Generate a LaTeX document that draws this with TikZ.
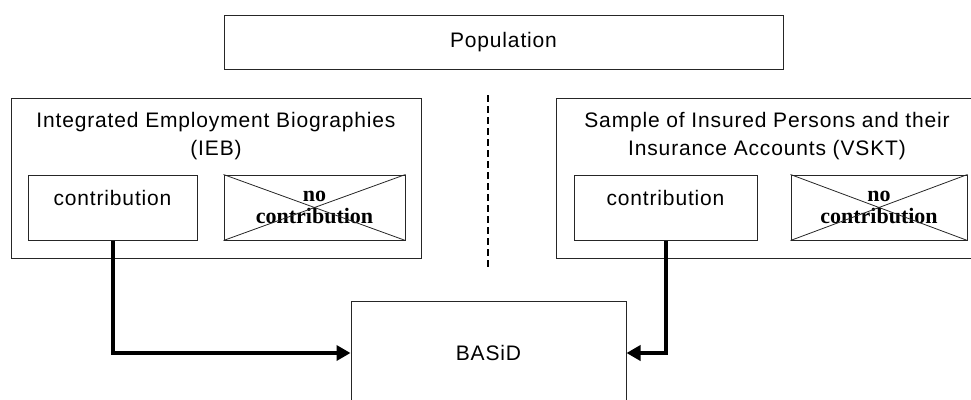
\documentclass[tikz,border=0pt]{standalone}
\usepackage{fontspec}
\setmainfont{Liberation Sans}[LetterSpace=4]
\newfontfamily\crossfont{Liberation Serif}
\usetikzlibrary{arrows.meta}

\begin{document}
\begin{tikzpicture}[x=1pt, y=-1pt,
		every node/.style={font=\fontsize{21}{28}\selectfont},
		box/.style={draw=black!85, line width=1pt, inner sep=0pt},
		inbox/.style={box, minimum height=65},
		crossed/.style={inbox, align=center, font=\crossfont\bfseries\fontsize{22}{22}\selectfont},
		link/.style={line width=4pt, -{Triangle[length=14pt, width=15pt]}}]
				\useasboundingbox (0,0) rectangle (971,399);
				\clip (0,0) rectangle (971,399);
				\node[box, minimum width=559, minimum height=54] (population) at (503.5,42) {Population};
				\node[box, minimum width=410, minimum height=160] (ieb) at (216,178) {};
				\node[box, minimum width=422, minimum height=160] (vskt) at (767,178) {};
				\node[align=center] (iebtitle) at (216,136) {Integrated Employment Biographies\\(IEB)};
				\node[align=center] (vskttitle) at (767,136) {Sample of Insured Persons and their\\Insurance Accounts (VSKT)};
				\node[inbox, minimum width=169, text height=20, text depth=25] (lcon) at (112.5,207.5) {contribution};
				\node[crossed, minimum width=181] (lnocon) at (314.5,207.5) {no\\contribution};
				\node[inbox, minimum width=183, text height=20, text depth=25] (rcon) at (665.5,207.5) {contribution};
				\node[crossed, minimum width=176] (rnocon) at (879,207.5) {no\\contribution};
				\foreach \n in {lnocon, rnocon} {
					\draw[black!85, line width=.8pt] (\n.north west) -- (\n.south east);
					\draw[black!85, line width=.8pt] (\n.south west) -- (\n.north east);
				}
				\node[box, minimum width=275, minimum height=104] (basid) at (488.5,353) {BASiD};
				\coordinate (divtop) at (488,95);
				\coordinate (divbot) at (488,269);
				\draw[line width=2.5pt, dash pattern=on 7pt off 4pt] (divtop) -- (divbot);
				\draw[link] (lcon.south) |- (basid.west);
				\draw[link] (rcon.south) |- (basid.east);
			\end{tikzpicture}
\end{document}
